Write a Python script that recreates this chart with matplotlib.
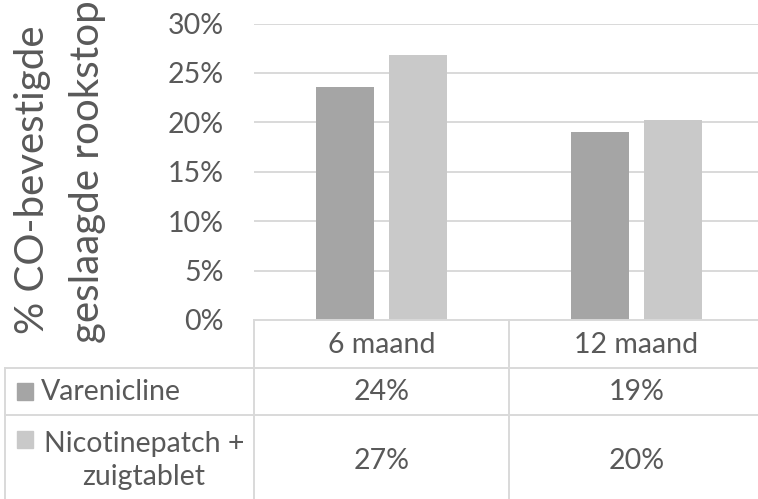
import matplotlib
matplotlib.use("Agg")
import matplotlib.pyplot as plt
from matplotlib.patches import Rectangle
from matplotlib.lines import Line2D

plt.rcParams["font.family"] = ["Lato", "DejaVu Sans"]

categories = ["6 maand", "12 maand"]
series_names = ["Varenicline", "Nicotinepatch +", "zuigtablet"]
varenicline = [23.6, 19.0]
nicotine = [26.8, 20.2]
table_labels = [["24%", "19%"], ["27%", "20%"]]
yticks = [0, 5, 10, 15, 20, 25, 30]

TXT = "#595959"
GRID = "#D9D9D9"
colors = ["#A5A5A5", "#C9C9C9"]
FS = 20.5

W, H = 758, 499
fig = plt.figure(figsize=(W / 100, H / 100), dpi=100)


def fx(px):
    return px / W


def fy(py):
    return 1 - py / H


# plot area: x 254..764 px, y 23.5..320 px
ax = fig.add_axes([fx(254), fy(320), fx(764 - 254), (320 - 23.5) / H])
ax.set_xlim(-0.5, 1.5)
ax.set_ylim(0, 30)

x = [0, 1]
bw = 0.224
ax.bar([i - 0.143 for i in x], varenicline, bw, color=colors[0], zorder=3)
ax.bar([i + 0.143 for i in x], nicotine, bw, color=colors[1], zorder=3)

for t in yticks[1:]:
    ax.axhline(t, color=GRID, lw=1.4, zorder=1)
ax.set_yticks(yticks)
ax.set_yticklabels([f"{t}%" for t in yticks])
ax.tick_params(axis="y", length=0, pad=22, labelsize=FS, labelcolor=TXT)
ax.set_xticks([])
for s in ax.spines.values():
    s.set_visible(False)

# y label (two lines)
fig.text(fx(33), fy(180), "% CO-bevestigde", rotation=90, ha="center",
         va="center", fontsize=29, color=TXT)
fig.text(fx(88), fy(172), "geslaagde rookstop", rotation=90, ha="center",
         va="center", fontsize=29, color=TXT)


# data table
def hline(y, x0, x1):
    fig.add_artist(Line2D([fx(x0), fx(x1)], [fy(y), fy(y)], color=GRID, lw=1.4))


def vline(xp, y0, y1):
    fig.add_artist(Line2D([fx(xp), fx(xp)], [fy(y0), fy(y1)], color=GRID, lw=1.4))


hline(320, 254, 758)
hline(368, 5, 758)
hline(415, 5, 758)
vline(254, 320, 499)
vline(509, 320, 499)
vline(5, 368, 499)

col_centers = [381.5, 636.5]
for cx, cat in zip(col_centers, categories):
    fig.text(fx(cx), fy(345), cat, ha="center", va="center", fontsize=FS, color=TXT)

row_centers = [392, 461]
for r in range(2):
    for cx, lab in zip(col_centers, table_labels[r]):
        fig.text(fx(cx), fy(row_centers[r]), lab, ha="center", va="center",
                 fontsize=FS, color=TXT)

# legend keys
fig.add_artist(Rectangle((fx(17), fy(400)), fx(16), 17 / H, color=colors[0],
                         transform=fig.transFigure))
fig.text(fx(41), fy(392), series_names[0], ha="left", va="center", fontsize=FS, color=TXT)
fig.add_artist(Rectangle((fx(17), fy(448)), fx(16), 17 / H, color=colors[1],
                         transform=fig.transFigure))
fig.text(fx(144), fy(444), series_names[1], ha="center", va="center", fontsize=FS, color=TXT)
fig.text(fx(144), fy(477), series_names[2], ha="center", va="center", fontsize=FS, color=TXT)

fig.savefig("out.png", dpi=100)
